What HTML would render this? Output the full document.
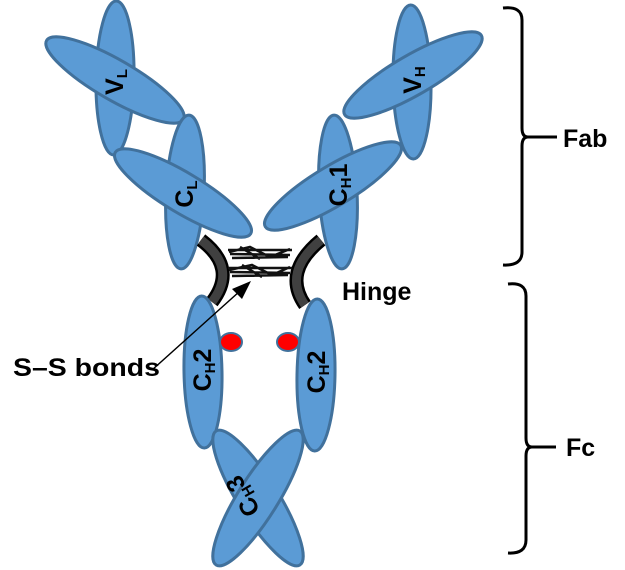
<!DOCTYPE html>
<html><head><meta charset="utf-8"><style>
html,body{margin:0;padding:0;background:#fff}
svg{display:block}
text{font-family:"Liberation Sans",sans-serif;fill:#000}
</style></head><body>
<svg width="625" height="570" viewBox="0 0 625 570" xmlns="http://www.w3.org/2000/svg">
<g fill="#5B9BD5" stroke="#41719C" stroke-width="3">
  <ellipse cx="115" cy="78" rx="19" ry="77" transform="rotate(1 115 78)"/>
  <ellipse cx="115" cy="80" rx="79" ry="20" transform="rotate(30 115 80)"/>
  <ellipse cx="185" cy="192" rx="19" ry="77" transform="rotate(3 185 192)"/>
  <ellipse cx="183" cy="193" rx="79" ry="20" transform="rotate(31 183 193)"/>
  <ellipse cx="412" cy="82" rx="19" ry="77" transform="rotate(-1 412 82)"/>
  <ellipse cx="413" cy="75" rx="79" ry="20" transform="rotate(-30 413 75)"/>
  <ellipse cx="338" cy="192" rx="19" ry="77" transform="rotate(-3 338 192)"/>
  <ellipse cx="333" cy="186" rx="79" ry="20" transform="rotate(-31 333 186)"/>
</g>
<g fill="none" stroke-linecap="butt">
  <path d="M201,240 Q238,268 212,302" stroke="#000" stroke-width="14"/>
  <path d="M201,240 Q238,268 212,302" stroke="#404040" stroke-width="9"/>
  <path d="M321,240 Q282,272 305,305" stroke="#000" stroke-width="14"/>
  <path d="M321,240 Q282,272 305,305" stroke="#404040" stroke-width="9"/>
</g>
<g stroke="#111" fill="none" stroke-width="2.5">
  <path d="M228,250 L292,250 M230,254 L290,255 M232,258 L288,257 M229,252 L250,247 L270,257 L290,249 M240,247 L260,259"/>
  <path d="M228,268 L292,268 M230,272 L290,273 M232,276 L288,275 M229,270 L252,265 L272,275 L290,267 M242,265 L262,277"/>
</g>
<g fill="#5B9BD5" stroke="#41719C" stroke-width="3">
  <ellipse cx="203" cy="372" rx="19" ry="76" transform="rotate(-1 203 372)"/>
  <ellipse cx="316" cy="375" rx="19" ry="76" transform="rotate(1 316 375)"/>
  <ellipse cx="258" cy="498" rx="20" ry="79" transform="rotate(-32 258 498)"/>
  <ellipse cx="258" cy="498" rx="20" ry="79" transform="rotate(32 258 498)"/>
</g>
<g fill="#FF0000" stroke="#41719C" stroke-width="2">
  <ellipse cx="231" cy="342" rx="11" ry="9"/>
  <ellipse cx="288" cy="342" rx="11" ry="9"/>
</g>
<line x1="152" y1="370" x2="240" y2="291" stroke="#000" stroke-width="1.5"/>
<polygon points="251,281 232,289 242,299" fill="#000"/>
<g font-size="25" font-weight="bold">
  <text transform="translate(123,82) rotate(-90)" text-anchor="middle">V<tspan font-size="15" dy="4">L</tspan></text>
  <text transform="translate(193,194) rotate(-90)" text-anchor="middle">C<tspan font-size="15" dy="4">L</tspan></text>
  <text transform="translate(421,80) rotate(-90)" text-anchor="middle">V<tspan font-size="15" dy="4">H</tspan></text>
  <text transform="translate(347,185) rotate(-90)" text-anchor="middle">C<tspan font-size="15" dy="4">H</tspan><tspan dy="-4">1</tspan></text>
  <text transform="translate(211,370) rotate(-90)" text-anchor="middle">C<tspan font-size="15" dy="4">H</tspan><tspan dy="-4">2</tspan></text>
  <text transform="translate(325,372) rotate(-90)" text-anchor="middle">C<tspan font-size="15" dy="4">H</tspan><tspan dy="-4">2</tspan></text>
  <text transform="translate(250,492) rotate(-120)" text-anchor="middle">C<tspan font-size="15" dy="4">H</tspan><tspan dy="-4">3</tspan></text>
</g>
<g fill="none" stroke="#000" stroke-width="3">
  <path d="M503,8 Q522,6 522,20 L522,128 Q522,137 528,137 Q522,137 522,146 L522,252 Q522,266 503,265"/>
  <line x1="528" y1="137" x2="557" y2="137"/>
  <path d="M508,284 Q526,282 526,296 L526,438 Q526,447 532,447 Q526,447 526,456 L526,540 Q526,554 508,553"/>
  <line x1="532" y1="447" x2="556" y2="447"/>
</g>
<g font-size="25" font-weight="bold">
  <text x="563" y="147">Fab</text>
  <text x="566" y="456">Fc</text>
  <text x="342" y="300">Hinge</text>
  <text x="13" y="376" textLength="147" lengthAdjust="spacingAndGlyphs">S–S bonds</text>
</g>
</svg>
</body></html>
